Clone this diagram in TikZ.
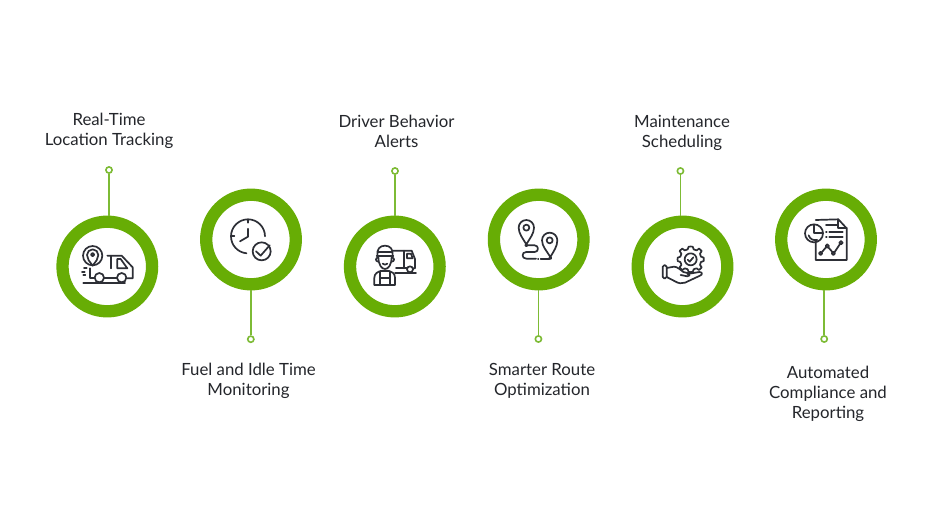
\documentclass[tikz,border=0pt]{standalone}
\usepackage{fontspec}
\setmainfont{Lato}
\definecolor{ringgreen}{HTML}{67AD05}
\definecolor{linegreen}{HTML}{7DBB35}
\definecolor{ink}{HTML}{2D2F36}
\definecolor{txt}{HTML}{24262B}
\tikzset{
  ringnode/.style={circle,draw=ringgreen,line width=12.3pt,fill=white,minimum size=89.6pt,inner sep=0pt},
  enddot/.style={circle,draw=linegreen,line width=1.6pt,fill=white,minimum size=6.2pt,inner sep=0pt},
  link/.style={draw=linegreen,line width=1.7pt},
  lbl/.style={align=center,text=txt,font=\fontsize{16.8}{20}\selectfont,inner sep=0pt},
  ic/.style={draw=ink,line width=1.7pt,line cap=round,line join=round}
}
\begin{document}
\begin{tikzpicture}[x=1pt,y=-1pt]
\useasboundingbox[fill=white] (0,0) rectangle (941,529);
% end dots
\node[enddot] (d1) at (109,170) {};
\node[enddot] (d2) at (250.8,339.2) {};
\node[enddot] (d3) at (395,171) {};
\node[enddot] (d4) at (538.4,339) {};
\node[enddot] (d5) at (680.4,171) {};
\node[enddot] (d6) at (824.2,339) {};
% rings
\node[ringnode] (r1) at (107.3,266.5) {};
\node[ringnode] (r2) at (251,239.5) {};
\node[ringnode] (r3) at (394.8,266.5) {};
\node[ringnode] (r4) at (538.7,239.5) {};
\node[ringnode] (r5) at (682.5,266.5) {};
\node[ringnode] (r6) at (826,239.5) {};
% connectors
\draw[link] (d1) -- (d1 |- r1.north);
\draw[link] (d2) -- (d2 |- r2.south);
\draw[link] (d3) -- (d3 |- r3.north);
\draw[link] (d4) -- (d4 |- r4.south);
\draw[link] (d5) -- (d5 |- r5.north);
\draw[link] (d6) -- (d6 |- r6.south);
% labels
\node[lbl] (t1) at (109,131) {Real-Time\\Location Tracking};
\node[lbl] (t2) at (248.5,381) {Fuel and Idle Time\\Monitoring};
\node[lbl] (t3) at (396.5,131) {Driver Behavior\\Alerts};
\node[lbl] (t4) at (542,381) {Smarter Route\\Optimization};
\node[lbl] (t5) at (682,133) {Maintenance\\Scheduling};
\node[lbl] (t6) at (828,394) {Automated\\Compliance and\\Reporting};
% truck icon
\begin{scope}[shift={(70,235)},scale=1/3]
\draw[ic] (68,62) circle (29);
\draw[ic] (68,92) .. controls (58,78) and (51,72) .. (51,60) arc[start angle=180,end angle=360,radius=17] .. controls (85,72) and (78,78) .. (68,92) -- cycle;
\draw[ic] (68,59) circle (5);
\draw[ic] (112,62) -- (155,62) -- (188,97) -- (188,130) -- (172,130);
\draw[ic] (122,62) -- (122,100);
\draw[ic] (142,72) -- (142,100) -- (172,100) -- (152,72) -- cycle;
\draw[ic] (88,128) circle (14);
\draw[ic] (155,128) circle (14);
\draw[ic] (103,130) -- (140,130);
\draw[ic] (60,100) -- (60,130) -- (73,130);
\draw[ic] (40,143) -- (165,143);
\draw[ic] (42,100) -- (50,100);
\draw[ic] (36,110) -- (44,110);
\draw[ic] (40,120) -- (46,120);
\end{scope}
% clock icon
\begin{scope}[shift={(220,212)},scale=1/3]
\draw[ic] (135,73) arc[start angle=0,end angle=-265,radius=51];
\draw[ic] (84,22) -- (84,32);
\draw[ic] (33,73) -- (43,73);
\draw[ic] (84,50) -- (84,74) -- (60,88);
\draw[ic] (125,118) circle (27);
\draw[ic] (108,118) -- (122,131) -- (149,100);
\end{scope}
% driver icon
\begin{scope}[shift={(360,235)},scale=1/3]
\draw[ic] (52,62) .. controls (50,42) and (60,32) .. (75,32) .. controls (90,32) and (100,42) .. (98,62);
\draw[ic] (50,62) -- (100,62);
\draw[ic] (55,52) -- (95,52);
\draw[ic] (55,64) .. controls (55,90) and (65,102) .. (75,102) .. controls (85,102) and (95,90) .. (95,64);
\draw[ic] (68,86) .. controls (72,90) and (78,90) .. (82,86);
\draw[ic] (53,68) .. controls (46,68) and (46,80) .. (55,80);
\draw[ic] (97,68) .. controls (104,68) and (104,80) .. (95,80);
\draw[ic] (43,150) -- (43,128) .. controls (43,115) and (55,110) .. (62,108) -- (88,108) .. controls (95,110) and (105,115) .. (105,128) -- (105,150) -- cycle;
\draw[ic] (60,110) -- (60,150);
\draw[ic] (90,110) -- (90,150);
\draw[ic] (60,130) -- (90,130);
\draw[ic] (100,47) -- (155,47) -- (165,72) -- (165,100) -- (160,100);
\draw[ic] (132,47) -- (132,100);
\draw[ic] (108,100) -- (140,100);
\draw[ic] (141,56) -- (153,56) -- (158,70) -- (141,70) -- cycle;
\draw[ic] (150,103) circle (9);
\draw[ic] (105,115) -- (168,115);
\end{scope}
% route icon
\begin{scope}[shift={(508,212)},scale=1/3]
\draw[ic] (55,97) .. controls (45,80) and (32,65) .. (32,47) arc[start angle=180,end angle=360,radius=23] .. controls (78,65) and (65,80) .. (55,97) -- cycle;
\draw[ic] (55,47) circle (9);
\draw[ic] (127,135) .. controls (117,118) and (102,103) .. (102,85) arc[start angle=180,end angle=360,radius=23] .. controls (148,103) and (137,118) .. (127,135) -- cycle;
\draw[ic] (125,85) circle (9);
\draw[ic] (55,100) circle (3);
\draw[ic] (58,100) -- (80,100) .. controls (93,100) and (93,120) .. (80,120) -- (55,120) .. controls (40,120) and (40,140) .. (55,140) -- (84,140);
\draw[ic] (90,140) -- (91,140);
\draw[ic] (98,140) -- (124,140);
\draw[ic] (127,138) circle (3);
\end{scope}
% hand and gear icon
\begin{scope}[shift={(650,240)},scale=1/3]
\draw[ic] plot[smooth cycle,tension=0.2] coordinates {
  (116,20) (128,20) (131,28) (140,31) (147,26) (155,33) (150,41) (153,50) (161,53) (161,63) (153,66) (150,75) (155,82) (147,90) (140,85) (131,88) (128,96) (116,96) (113,88) (104,85) (97,90) (89,82) (94,75) (91,66) (83,63) (83,53) (91,50) (94,41) (89,33) (97,26) (104,31) (113,28)};
\draw[ic] (122,58) circle (18);
\draw[ic] (113,59) -- (119,65) -- (130,52);
\draw[ic,rounded corners=1.5pt] (38,76) rectangle (50,115);
\draw[ic] (50,84) -- (72,80) .. controls (82,80) and (92,90) .. (100,96) -- (116,100) .. controls (122,103) and (118,110) .. (112,109) -- (92,105);
\draw[ic] (112,102) -- (148,96) .. controls (158,96) and (158,104) .. (150,107) -- (105,128) .. controls (95,132) and (85,130) .. (75,124) -- (50,111);
\end{scope}
% report icon
\begin{scope}[shift={(620,160)},scale=1/3]
\draw[ic] (587,180) -- (655,178) -- (680,205) -- (680,300) -- (587,300) -- (587,245);
\draw[ic] (655,178) -- (655,205) -- (680,205);
\draw[ic] (582,220) circle (27);
\draw[ic] (582,194) -- (582,220) -- (608,220);
\draw[ic] (566,226) .. controls (570,238) and (580,242) .. (592,240);
\draw[ic] (618,195) -- (650,195);
\draw[ic] (618,217) -- (620,217);
\draw[ic] (628,217) -- (668,217);
\draw[ic] (618,230) -- (620,230);
\draw[ic] (628,230) -- (668,230);
\draw[ic] (602,280) circle (5);
\draw[ic] (622,258) circle (5);
\draw[ic] (640,280) circle (5);
\draw[ic] (663,248) circle (5);
\draw[ic] (606,276) -- (618,262);
\draw[ic] (625,262) -- (637,276);
\draw[ic] (644,276) -- (660,252);
\end{scope}
\end{tikzpicture}
\end{document}
